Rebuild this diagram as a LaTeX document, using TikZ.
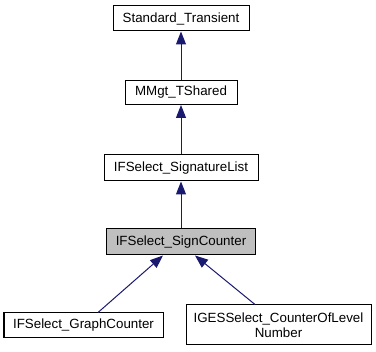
\documentclass[tikz,border=0pt]{standalone}
\usepackage{fontspec}
\setmainfont{Liberation Sans}
\usetikzlibrary{arrows.meta}
\definecolor{edgeblue}{HTML}{191970}
\definecolor{curfill}{HTML}{BFBFBF}
\begin{document}
\begin{tikzpicture}[x=0.75pt,y=-0.75pt,
  cls/.style={draw=black,line width=0.75pt,fill=white,inner sep=0pt,
    font=\fontsize{10pt}{11.5pt}\selectfont,align=center},
  cur/.style={cls,fill=curfill},
  inherit/.style={draw=edgeblue,line width=0.75pt,
    -{Triangle[length=9.75pt,width=7.5pt,fill=edgeblue]}}]
\useasboundingbox (0,0) rectangle (376,352);
% class boxes
\node[cls,minimum width=102pt,minimum height=18.75pt] (st) at (181,18.5) {Standard\_Transient};
\node[cls,minimum width=84pt,minimum height=18pt] (mm) at (181,92.5) {MMgt\_TShared};
\node[cls,minimum width=115.5pt,minimum height=19.5pt] (sl) at (181,168) {IFSelect\_SignatureList};
\node[cur,minimum width=111.75pt,minimum height=19.5pt] (sc) at (181,242) {IFSelect\_SignCounter};
\node[cls,minimum width=119.25pt,minimum height=18.75pt] (gc) at (83.5,325.5) {IFSelect\_GraphCounter};
\node[cls,minimum width=138.75pt,minimum height=30pt] (ig) at (278.5,325) {IGESSelect\_CounterOfLevel\\Number};
% inheritance arrows, child -> parent
\draw[inherit] (mm.north) -- (st.south);
\draw[inherit] (sl.north) -- (mm.south);
\draw[inherit] (sc.north) -- (sl.south);
\draw[inherit] ([xshift=10.875pt]gc.north) -- ([xshift=-13.5pt]sc.south);
\draw[inherit] ([xshift=-17.625pt]ig.north) -- ([xshift=10.5pt]sc.south);
\end{tikzpicture}
\end{document}
